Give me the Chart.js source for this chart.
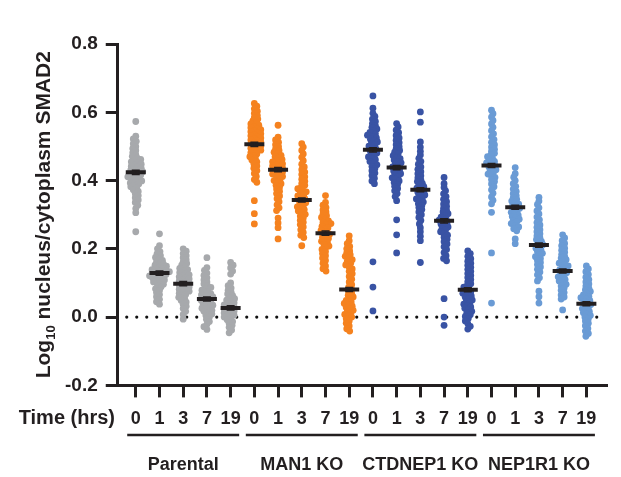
<!DOCTYPE html>
<html>
<head>
<meta charset="utf-8">
<script src="https://cdn.jsdelivr.net/npm/chart.js@4/dist/chart.umd.min.js"></script>
<style>
  html, body { margin: 0; padding: 0; background: #fff; }
  #wrap { width: 621px; height: 477px; position: relative; }
</style>
</head>
<body>
<div id="wrap"><canvas id="swarmChart"></canvas></div>
<script>
const groups = ['Parental', 'MAN1 KO', 'CTDNEP1 KO', 'NEP1R1 KO'];
const times = ['0', '1', '3', '7', '19'];
const groupColors = ['#a7a9ac', '#f5821f', '#3953a4', '#6a9bd5'];

// per-cell values (Log10 nucleus/cytoplasm SMAD2)
const parental = [
  [0.573, 0.530, 0.522, 0.515, 0.508, 0.500, 0.494, 0.488, 0.482, 0.476, 0.471, 0.466, 0.462, 0.458, 0.455, 0.451, 0.448, 0.445, 0.442, 0.439, 0.436, 0.433, 0.431, 0.428, 0.426, 0.423, 0.421, 0.418, 0.416, 0.413, 0.411, 0.408, 0.405, 0.402, 0.399, 0.396, 0.393, 0.390, 0.386, 0.382, 0.378, 0.373, 0.368, 0.362, 0.356, 0.350, 0.343, 0.336, 0.328, 0.318, 0.306, 0.250],
  [0.244, 0.209, 0.200, 0.192, 0.185, 0.180, 0.175, 0.170, 0.166, 0.162, 0.158, 0.155, 0.152, 0.149, 0.146, 0.143, 0.141, 0.139, 0.137, 0.135, 0.133, 0.131, 0.129, 0.127, 0.125, 0.123, 0.121, 0.119, 0.117, 0.115, 0.112, 0.109, 0.106, 0.103, 0.100, 0.096, 0.092, 0.088, 0.083, 0.078, 0.072, 0.066, 0.060, 0.052, 0.045, 0.038],
  [0.200, 0.193, 0.186, 0.180, 0.174, 0.168, 0.162, 0.157, 0.152, 0.147, 0.143, 0.139, 0.135, 0.131, 0.127, 0.124, 0.121, 0.118, 0.115, 0.112, 0.109, 0.106, 0.103, 0.100, 0.097, 0.094, 0.091, 0.088, 0.085, 0.082, 0.079, 0.076, 0.073, 0.070, 0.066, 0.062, 0.058, 0.054, 0.049, 0.044, 0.038, 0.032, 0.025, 0.017, 0.008, -0.006],
  [0.174, 0.145, 0.137, 0.129, 0.122, 0.115, 0.109, 0.103, 0.097, 0.092, 0.087, 0.083, 0.079, 0.075, 0.071, 0.068, 0.065, 0.062, 0.059, 0.056, 0.053, 0.050, 0.047, 0.044, 0.041, 0.038, 0.035, 0.032, 0.029, 0.026, 0.023, 0.020, 0.017, 0.013, 0.009, 0.005, 0.000, -0.006, -0.013, -0.021, -0.028, -0.036],
  [0.160, 0.152, 0.144, 0.135, 0.126, 0.100, 0.092, 0.085, 0.079, 0.073, 0.068, 0.063, 0.058, 0.054, 0.050, 0.046, 0.042, 0.039, 0.036, 0.033, 0.030, 0.027, 0.024, 0.021, 0.018, 0.015, 0.012, 0.009, 0.006, 0.003, 0.000, -0.004, -0.008, -0.013, -0.018, -0.024, -0.030, -0.038, -0.046]
];
const man1 = [
  [0.626, 0.618, 0.610, 0.603, 0.597, 0.591, 0.585, 0.580, 0.575, 0.570, 0.566, 0.562, 0.558, 0.555, 0.552, 0.549, 0.546, 0.543, 0.540, 0.537, 0.534, 0.531, 0.528, 0.525, 0.522, 0.519, 0.516, 0.513, 0.510, 0.507, 0.504, 0.501, 0.498, 0.495, 0.492, 0.489, 0.486, 0.482, 0.478, 0.474, 0.470, 0.465, 0.460, 0.455, 0.449, 0.443, 0.436, 0.429, 0.421, 0.412, 0.403, 0.395, 0.341, 0.303, 0.273],
  [0.562, 0.527, 0.519, 0.512, 0.505, 0.499, 0.493, 0.488, 0.483, 0.478, 0.474, 0.470, 0.466, 0.462, 0.458, 0.455, 0.452, 0.449, 0.446, 0.443, 0.440, 0.437, 0.434, 0.431, 0.428, 0.425, 0.422, 0.419, 0.416, 0.412, 0.408, 0.404, 0.400, 0.396, 0.391, 0.386, 0.381, 0.375, 0.369, 0.362, 0.355, 0.347, 0.338, 0.329, 0.320, 0.312, 0.290, 0.276, 0.262, 0.229],
  [0.508, 0.498, 0.488, 0.478, 0.468, 0.458, 0.448, 0.440, 0.432, 0.425, 0.418, 0.411, 0.404, 0.398, 0.392, 0.386, 0.381, 0.376, 0.371, 0.367, 0.363, 0.359, 0.355, 0.351, 0.347, 0.343, 0.339, 0.335, 0.331, 0.327, 0.323, 0.319, 0.315, 0.311, 0.306, 0.301, 0.296, 0.290, 0.284, 0.278, 0.271, 0.264, 0.256, 0.248, 0.240, 0.233, 0.209],
  [0.356, 0.336, 0.328, 0.321, 0.314, 0.308, 0.302, 0.297, 0.292, 0.287, 0.282, 0.278, 0.274, 0.270, 0.266, 0.262, 0.258, 0.254, 0.250, 0.246, 0.242, 0.238, 0.234, 0.230, 0.226, 0.222, 0.218, 0.213, 0.208, 0.203, 0.198, 0.192, 0.186, 0.180, 0.173, 0.166, 0.158, 0.150, 0.142, 0.135],
  [0.238, 0.224, 0.215, 0.207, 0.200, 0.194, 0.188, 0.183, 0.178, 0.173, 0.168, 0.163, 0.158, 0.153, 0.147, 0.141, 0.134, 0.127, 0.119, 0.111, 0.103, 0.095, 0.088, 0.081, 0.075, 0.069, 0.064, 0.059, 0.054, 0.049, 0.044, 0.040, 0.036, 0.032, 0.028, 0.024, 0.020, 0.016, 0.012, 0.008, 0.004, 0.000, -0.005, -0.011, -0.018, -0.026, -0.034, -0.041]
];
const ctdnep1 = [
  [0.648, 0.612, 0.597, 0.588, 0.580, 0.573, 0.567, 0.561, 0.556, 0.551, 0.546, 0.541, 0.537, 0.533, 0.529, 0.525, 0.521, 0.517, 0.513, 0.509, 0.505, 0.501, 0.497, 0.493, 0.489, 0.485, 0.481, 0.477, 0.473, 0.469, 0.465, 0.461, 0.456, 0.451, 0.446, 0.441, 0.435, 0.429, 0.422, 0.415, 0.407, 0.399, 0.391, 0.162, 0.088, 0.018],
  [0.567, 0.557, 0.548, 0.540, 0.532, 0.525, 0.518, 0.511, 0.505, 0.499, 0.493, 0.488, 0.483, 0.478, 0.473, 0.468, 0.464, 0.460, 0.456, 0.452, 0.448, 0.444, 0.440, 0.436, 0.432, 0.428, 0.424, 0.420, 0.416, 0.412, 0.408, 0.404, 0.399, 0.394, 0.389, 0.383, 0.377, 0.370, 0.362, 0.353, 0.341, 0.285, 0.241, 0.188],
  [0.601, 0.571, 0.513, 0.498, 0.486, 0.475, 0.465, 0.456, 0.448, 0.440, 0.433, 0.426, 0.420, 0.414, 0.408, 0.402, 0.397, 0.392, 0.387, 0.382, 0.378, 0.374, 0.370, 0.366, 0.362, 0.358, 0.354, 0.350, 0.346, 0.342, 0.337, 0.332, 0.327, 0.321, 0.315, 0.308, 0.300, 0.292, 0.283, 0.273, 0.262, 0.250, 0.237, 0.224, 0.160],
  [0.409, 0.391, 0.380, 0.370, 0.361, 0.353, 0.345, 0.338, 0.331, 0.325, 0.319, 0.313, 0.308, 0.303, 0.298, 0.293, 0.288, 0.284, 0.280, 0.276, 0.272, 0.268, 0.264, 0.260, 0.255, 0.250, 0.245, 0.240, 0.234, 0.228, 0.221, 0.214, 0.206, 0.198, 0.189, 0.180, 0.172, 0.165, 0.054, 0.000, -0.024],
  [0.194, 0.186, 0.178, 0.171, 0.164, 0.158, 0.152, 0.146, 0.140, 0.134, 0.128, 0.122, 0.116, 0.110, 0.104, 0.098, 0.093, 0.088, 0.083, 0.078, 0.074, 0.070, 0.066, 0.062, 0.058, 0.054, 0.050, 0.046, 0.042, 0.038, 0.034, 0.030, 0.026, 0.022, 0.017, 0.012, 0.007, 0.002, -0.004, -0.011, -0.019, -0.027, -0.035]
];
const nep1r1 = [
  [0.606, 0.596, 0.586, 0.576, 0.566, 0.556, 0.546, 0.537, 0.528, 0.520, 0.512, 0.505, 0.498, 0.492, 0.486, 0.480, 0.475, 0.470, 0.465, 0.460, 0.456, 0.452, 0.448, 0.444, 0.440, 0.436, 0.432, 0.428, 0.424, 0.419, 0.414, 0.409, 0.403, 0.397, 0.390, 0.382, 0.373, 0.363, 0.352, 0.342, 0.332, 0.307, 0.188, 0.041],
  [0.438, 0.420, 0.410, 0.400, 0.391, 0.383, 0.375, 0.368, 0.362, 0.356, 0.350, 0.345, 0.340, 0.335, 0.331, 0.327, 0.323, 0.319, 0.315, 0.311, 0.307, 0.303, 0.299, 0.295, 0.291, 0.287, 0.283, 0.279, 0.274, 0.269, 0.264, 0.259, 0.253, 0.229, 0.215],
  [0.351, 0.340, 0.330, 0.320, 0.311, 0.302, 0.293, 0.285, 0.277, 0.270, 0.263, 0.256, 0.250, 0.244, 0.238, 0.232, 0.227, 0.222, 0.217, 0.212, 0.207, 0.202, 0.197, 0.192, 0.187, 0.182, 0.177, 0.172, 0.166, 0.160, 0.154, 0.147, 0.140, 0.132, 0.124, 0.115, 0.106, 0.076, 0.060, 0.041],
  [0.241, 0.232, 0.224, 0.216, 0.209, 0.202, 0.196, 0.190, 0.184, 0.178, 0.173, 0.168, 0.163, 0.158, 0.154, 0.150, 0.146, 0.142, 0.138, 0.134, 0.130, 0.126, 0.122, 0.118, 0.114, 0.110, 0.106, 0.101, 0.096, 0.091, 0.085, 0.079, 0.072, 0.065, 0.059, 0.053, 0.021],
  [0.150, 0.141, 0.133, 0.125, 0.117, 0.110, 0.103, 0.097, 0.091, 0.085, 0.080, 0.075, 0.070, 0.065, 0.061, 0.057, 0.053, 0.049, 0.045, 0.041, 0.037, 0.033, 0.029, 0.025, 0.021, 0.017, 0.013, 0.009, 0.005, 0.000, -0.005, -0.011, -0.018, -0.025, -0.033, -0.041, -0.048, -0.056]
];

// means and SEM as drawn (black bars)
const meansParental = [0.424, 0.129, 0.098, 0.053, 0.027];
const meansMan1     = [0.506, 0.432, 0.343, 0.246, 0.081];
const meansCtdnep1  = [0.490, 0.438, 0.373, 0.282, 0.080];
const meansNep1r1   = [0.444, 0.322, 0.211, 0.135, 0.039];
const semAll = 0.006;

const yTicks = [-0.2, 0, 0.2, 0.4, 0.6, 0.8];

const FONT = "'Liberation Sans', Arial, Helvetica, sans-serif";
const PX_PER_Y = 340;   // approx pixels per 1.0 on y, for swarm spacing
const PX_PER_X = 23.9;  // approx pixels per category
const MIN_D = 3.6;
const STEP = 0.5;

function swarm(values, col) {
  const placed = [];
  const out = [];
  const sorted = values.slice().sort((a, b) => b - a);
  sorted.forEach((v, i) => {
    const py = v * PX_PER_Y;
    const sign = i % 2 ? 1 : -1;
    let off = 0;
    for (let k = 0; k < 200; k++) {
      const cand = k === 0 ? 0 : Math.ceil(k / 2) * STEP * (k % 2 ? sign : -sign);
      const ok = placed.every(p => Math.abs(p.y - py) >= MIN_D || Math.hypot(p.x - cand, p.y - py) >= MIN_D);
      if (ok) { off = cand; break; }
    }
    placed.push({ x: off, y: py });
    out.push({ x: col + off / PX_PER_X, y: v });
  });
  return out;
}

const allGroups = [parental, man1, ctdnep1, nep1r1];
const allMeans = [meansParental, meansMan1, meansCtdnep1, meansNep1r1];

const pointSets = allGroups.map((cols, g) => ({
  type: 'scatter',
  data: cols.flatMap((vals, t) => swarm(vals, g * 5 + t)),
  backgroundColor: groupColors[g],
  borderWidth: 0,
  pointRadius: 3.4,
  order: 2
}));

const meanData = allMeans.flatMap((m, g) => m.map((v, t) => ({ x: g * 5 + t, y: v })));

const zeroLine = {
  type: 'line',
  data: [{ x: -0.38, y: 0 }, { x: 19.5, y: 0 }],
  borderColor: '#111',
  borderWidth: 3.2,
  borderDash: [0, 10],
  borderCapStyle: 'round',
  pointRadius: 0,
  order: 3
};

const meanSet = {
  type: 'scatter',
  data: meanData,
  pointStyle: 'line',
  pointRadius: 10,
  borderColor: '#231f20',
  borderWidth: 4,
  order: 0
};

const decor = {
  id: 'decor',
  afterDatasetsDraw(chart) {
    const { ctx, scales: { x, y } } = chart;
    ctx.save();
    ctx.strokeStyle = '#231f20';
    ctx.lineWidth = 1.5;
    meanData.forEach(p => {
      const px = x.getPixelForValue(p.x);
      const y1 = y.getPixelForValue(p.y + semAll), y2 = y.getPixelForValue(p.y - semAll);
      ctx.beginPath();
      ctx.moveTo(px, y1); ctx.lineTo(px, y2);
      ctx.moveTo(px - 4, y1); ctx.lineTo(px + 4, y1);
      ctx.moveTo(px - 4, y2); ctx.lineTo(px + 4, y2);
      ctx.stroke();
    });
    ctx.restore();
  },
  afterDraw(chart) {
    const { ctx, chartArea, scales: { x } } = chart;
    ctx.save();
    ctx.fillStyle = '#231f20';
    ctx.strokeStyle = '#231f20';

    // y title with subscript
    const big = 'bold 21px ' + FONT, small = 'bold 13px ' + FONT;
    const p1 = 'Log', p2 = '10', p3 = ' nucleus/cytoplasm SMAD2';
    ctx.font = big; const w1 = ctx.measureText(p1).width, w3 = ctx.measureText(p3).width;
    ctx.font = small; const w2 = ctx.measureText(p2).width;
    const W = w1 + w2 + w3;
    ctx.translate(43, (chartArea.top + chartArea.bottom) / 2);
    ctx.rotate(-Math.PI / 2);
    ctx.textBaseline = 'alphabetic';
    ctx.textAlign = 'left';
    let cx = -W / 2;
    ctx.font = big; ctx.fillText(p1, cx, 7); cx += w1;
    ctx.font = small; ctx.fillText(p2, cx, 12); cx += w2;
    ctx.font = big; ctx.fillText(p3, cx, 7);
    ctx.setTransform(1, 0, 0, 1, 0, 0);

    // "Time (hrs)" row label
    ctx.font = 'bold 20px ' + FONT;
    ctx.textAlign = 'right';
    ctx.textBaseline = 'middle';
    ctx.fillText('Time (hrs)', 115, 418);

    // group brackets and names
    ctx.lineWidth = 2.5;
    ctx.font = 'bold 18px ' + FONT;
    ctx.textAlign = 'center';
    groups.forEach((name, g) => {
      const a = x.getPixelForValue(g * 5 - 0.36), b = x.getPixelForValue(g * 5 + 4.36);
      ctx.beginPath();
      ctx.moveTo(a, 435); ctx.lineTo(b, 435);
      ctx.stroke();
      ctx.fillText(name, (a + b) / 2, 465);
    });
    ctx.restore();
  }
};

new Chart(document.getElementById('swarmChart'), {
  data: { datasets: [...pointSets, meanSet, zeroLine] },
  options: {
    responsive: true,
    maintainAspectRatio: false,
    animation: false,
    layout: { padding: { left: 57, top: 44, right: 9, bottom: 36 } },
    plugins: { legend: { display: false }, tooltip: { enabled: false } },
    scales: {
      x: {
        type: 'linear',
        min: -0.76,
        max: 19.87,
        afterBuildTicks: s => { s.ticks = groups.flatMap((g, gi) => times.map((t, ti) => ({ value: gi * 5 + ti }))); },
        ticks: {
          autoSkip: false,
          maxRotation: 0,
          padding: 11,
          color: '#231f20',
          font: { family: FONT, size: 18, weight: 'bold' },
          callback: v => times[Math.round(v) % 5]
        },
        grid: { drawOnChartArea: false, drawTicks: true, tickLength: 12, tickWidth: 3, tickColor: '#231f20' },
        border: { display: true, width: 3, color: '#231f20' }
      },
      y: {
        min: -0.2,
        max: 0.8,
        afterBuildTicks: s => { s.ticks = yTicks.map(v => ({ value: v })); },
        ticks: {
          padding: 8,
          color: '#231f20',
          font: { family: FONT, size: 19, weight: 'bold' },
          callback: v => Number(v).toFixed(1)
        },
        grid: { drawOnChartArea: false, drawTicks: true, tickLength: 12, tickWidth: 3, tickColor: '#231f20' },
        border: { display: true, width: 3, color: '#231f20' }
      }
    }
  },
  plugins: [decor]
});
</script>
</body>
</html>
